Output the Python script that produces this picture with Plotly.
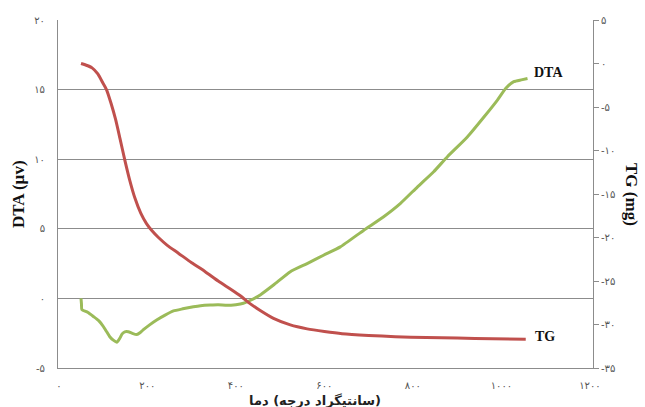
import plotly.graph_objects as go

# Thermal analysis of the sample: DTA (left axis) and TG (right axis) vs temperature

# TG curve (mg)
tg_temp = [50, 62, 75, 88, 100, 108, 118, 128, 138, 149, 160, 172, 185, 198, 210,
           225, 245, 270, 300, 330, 360, 390, 410, 432, 455, 485, 523, 561, 600,
           640, 700, 760, 830, 900, 980, 1055]
tg_mass = [0.0, -0.2, -0.5, -1.2, -2.3, -3.05, -4.6, -6.4, -8.6, -11.1, -13.4,
           -15.5, -17.2, -18.4, -19.2, -20.0, -20.9, -21.8, -22.9, -23.9, -25.0,
           -26.0, -26.7, -27.6, -28.4, -29.3, -30.05, -30.5, -30.8, -31.05, -31.25,
           -31.4, -31.5, -31.55, -31.65, -31.7]

# DTA curve (µv)
dta_temp = [50, 51, 52, 65, 78, 90, 100, 108, 115, 123, 131, 135, 138, 143, 149,
            157, 165, 176, 184, 191, 205, 221, 240, 259, 280, 304, 320, 342, 360,
            380, 400, 417, 432, 455, 485, 523, 561, 598, 636, 689, 734, 772, 810,
            847, 878, 923, 961, 991, 1010, 1028, 1045, 1059]
dta_signal = [0.0, -0.4, -0.8, -1.0, -1.3, -1.6, -2.0, -2.4, -2.75, -3.0, -3.15,
              -3.0, -2.85, -2.55, -2.4, -2.4, -2.5, -2.6, -2.45, -2.25, -1.9,
              -1.55, -1.2, -0.9, -0.75, -0.6, -0.52, -0.47, -0.45, -0.5, -0.45,
              -0.35, -0.15, 0.25, 0.96, 1.92, 2.5, 3.1, 3.7, 4.9, 5.87, 6.83, 8.0,
              9.1, 10.18, 11.6, 13.05, 14.25, 15.1, 15.57, 15.7, 15.8]

# Axis ticks with Persian digits
x_ticks = [0, 200, 400, 600, 800, 1000, 1200]
x_ticktext = ["۰", "۲۰۰", "۴۰۰", "۶۰۰", "۸۰۰", "۱۰۰۰", "۱۲۰۰"]
dta_ticks = [-5, 0, 5, 10, 15, 20]
dta_ticktext = ["-۵", "۰", "۵", "۱۰", "۱۵", "۲۰"]
dta_grid = [0, 5, 10, 15]
tg_ticks = [-35, -30, -25, -20, -15, -10, -5, 0, 5]
tg_ticktext = ["-۳۵", "-۳۰", "-۲۵", "-۲۰", "-۱۵", "-۱۰", "-۵", "۰", "۵"]

# Words of the temperature axis title, laid out left to right
x_title_words = ["دما", "(درجه", "سانتیگراد)"]

RED = "#C0504D"
GREEN = "#9BBB59"
AXIS = "#8c8c8c"
TICKFONT = dict(family="DejaVu Sans", size=10, color="#555555")

fig = go.Figure()
fig.add_trace(go.Scatter(x=dta_temp, y=dta_signal, mode="lines", yaxis="y",
                         line=dict(color=GREEN, width=3, shape="spline", smoothing=0.5),
                         showlegend=False))
fig.add_trace(go.Scatter(x=tg_temp, y=tg_mass, mode="lines", yaxis="y2",
                         line=dict(color=RED, width=3, shape="spline", smoothing=0.6),
                         showlegend=False))

fig.update_layout(
    width=645, height=407,
    margin=dict(l=58, r=52, t=20, b=39),
    paper_bgcolor="white", plot_bgcolor="white",
    xaxis=dict(range=[-2, 1207], tickvals=x_ticks, ticktext=x_ticktext,
               showline=True, linecolor=AXIS, linewidth=1, showgrid=False,
               zeroline=False, ticks="", tickfont=TICKFONT, ticklabelstandoff=8),
    yaxis=dict(range=[-5, 20], tickvals=dta_ticks, ticktext=dta_ticktext,
               showline=True, linecolor=AXIS, linewidth=1, showgrid=False,
               zeroline=False, ticks="", tickfont=TICKFONT, ticklabelstandoff=10),
    yaxis2=dict(range=[-35, 5], tickvals=tg_ticks, ticktext=tg_ticktext,
                overlaying="y", side="right", anchor="x",
                showline=True, linecolor=AXIS, linewidth=1, showgrid=False,
                zeroline=False, ticks="outside", ticklen=5, tickcolor=AXIS,
                tickfont=TICKFONT),
    yaxis3=dict(range=[-5, 20], tickvals=dta_grid, overlaying="y", side="left",
                anchor="x", showticklabels=False, showline=False, zeroline=False,
                showgrid=True, gridcolor=AXIS, gridwidth=1, ticks=""),
)

# Empty trace so the grid axis is rendered
fig.add_trace(go.Scatter(x=[None], y=[None], yaxis="y3", showlegend=False,
                         hoverinfo="skip"))

serif_bold = dict(family="Liberation Serif", size=17, color="#111111")
fig.add_annotation(text="<b>DTA (µv)</b>", xref="paper", yref="paper", x=0, y=0.5,
                   xanchor="center", yanchor="middle", xshift=-40, textangle=-90,
                   showarrow=False, font=serif_bold)
fig.add_annotation(text="<b>TG (mg)</b>", xref="paper", yref="paper", x=1, y=0.5,
                   xanchor="center", yanchor="middle", xshift=39, textangle=90,
                   showarrow=False, font=serif_bold)

# Left-to-right override with each word embedded right-to-left
LRO, RLE, PDF = "\u202d", "\u202b", "\u202c"
def rtl_word(w):
    core = w.strip("()")
    pre = "(" if w.startswith("(") else ""
    post = ")" if w.endswith(")") else ""
    return pre + RLE + core + PDF + post

x_title = LRO + " ".join(rtl_word(w) for w in x_title_words) + PDF
fig.add_annotation(
    text="<b>" + x_title + "</b>",
    xref="paper", yref="paper", x=0.48, y=0, yshift=-32, xanchor="center",
    yanchor="middle", showarrow=False,
    font=dict(family="DejaVu Sans", size=13, color="#222222"))

# Curve labels at the line ends
label_font = dict(family="Liberation Serif", size=14, color="#111111")
fig.add_annotation(text="<b>DTA</b>", x=dta_temp[-1], y=dta_signal[-1], xref="x",
                   yref="y", xanchor="left", xshift=4, yshift=6, showarrow=False,
                   font=label_font)
fig.add_annotation(text="<b>TG</b>", x=tg_temp[-1], y=tg_mass[-1], xref="x",
                   yref="y2", xanchor="left", xshift=7, yshift=3, showarrow=False,
                   font=label_font)

fig.write_html("out.html")
